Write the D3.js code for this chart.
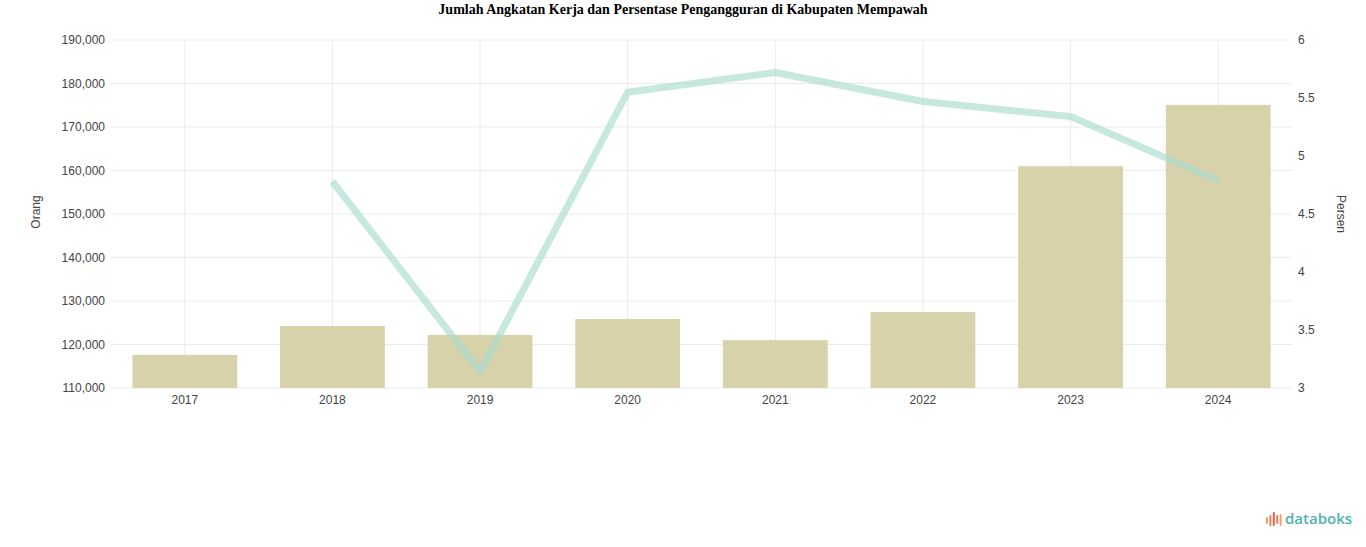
<!DOCTYPE html>
<html>
<head>
<meta charset="utf-8">
<script src="https://d3js.org/d3.v7.min.js"></script>
<style>
body {margin: 0; background: #fff;}
* {font-family: "Liberation Sans", Arial, sans-serif;}
</style>
</head>
<body>
<div id="chart"></div>
<script type="text/javascript">
// data
var years = ["2017", "2018", "2019", "2020", "2021", "2022", "2023", "2024"];
var angkatanKerja = [117600, 124250, 122200, 125850, 121000, 127450, 161000, 175100];
var pengangguran = [null, 4.78, 3.14, 5.55, 5.72, 5.47, 5.34, 4.79];
var leftTicks = [110000, 120000, 130000, 140000, 150000, 160000, 170000, 180000, 190000];
var rightTicks = [3, 3.5, 4, 4.5, 5, 5.5, 6];

var width = 1366;
var height = 547;
// plot area ("top" is taken by window.top, so use other names)
var plotLeft = 111, plotRight = 1292, plotTop = 40, plotBottom = 388;

var svg = d3.select("#chart").append("svg")
	.attr("width", width)
	.attr("height", height);

var x = d3.scaleBand().domain(years).range([plotLeft, plotRight]).paddingInner(0.29).paddingOuter(0.145);
var yL = d3.scaleLinear().domain([110000, 190000]).range([plotBottom, plotTop]);
var yR = d3.scaleLinear().domain([3, 6]).range([plotBottom, plotTop]);

// grid
svg.append("g").selectAll("line").data(leftTicks).enter().append("line")
	.attr("x1", plotLeft).attr("x2", plotRight)
	.attr("y1", function(d){ return yL(d); })
	.attr("y2", function(d){ return yL(d); })
	.attr("stroke", "#ebebeb").attr("stroke-width", 1);

svg.append("g").selectAll("line").data(years).enter().append("line")
	.attr("x1", function(d){ return x(d) + x.bandwidth()/2; })
	.attr("x2", function(d){ return x(d) + x.bandwidth()/2; })
	.attr("y1", plotTop).attr("y2", plotBottom)
	.attr("stroke", "#ebebeb").attr("stroke-width", 1);

// bars
svg.append("g").selectAll("rect").data(angkatanKerja).enter().append("rect")
	.attr("x", function(d, i){ return x(years[i]); })
	.attr("y", function(d){ return yL(d); })
	.attr("width", x.bandwidth())
	.attr("height", function(d){ return plotBottom - yL(d); })
	.attr("fill", "#d8d2ab");

// line
var line = d3.line()
	.defined(function(d){ return d != null; })
	.x(function(d, i){ return x(years[i]) + x.bandwidth()/2; })
	.y(function(d){ return yR(d); });

svg.append("path")
	.datum(pengangguran)
	.attr("d", line)
	.attr("fill", "none")
	.attr("stroke", "#a9dccd")
	.attr("stroke-opacity", 0.65)
	.attr("stroke-width", 7)
	.attr("stroke-linejoin", "round");

// axes
var axL = svg.append("g").attr("transform", "translate(" + (plotLeft - 3) + ",0)")
	.call(d3.axisLeft(yL).tickValues(leftTicks).tickSize(0).tickFormat(d3.format(",")));
var axR = svg.append("g").attr("transform", "translate(" + (plotRight + 3) + ",0)")
	.call(d3.axisRight(yR).tickValues(rightTicks).tickSize(0).tickFormat(function(d){ return String(d); }));
var axB = svg.append("g").attr("transform", "translate(0," + (plotBottom + 2) + ")")
	.call(d3.axisBottom(x).tickSize(0));

[axL, axR, axB].forEach(function(a){
	a.select(".domain").remove();
	a.selectAll("text").attr("fill", "#444").style("font-size", "12px");
});
axB.selectAll("text").attr("dy", "0.95em");

// axis titles
svg.append("text")
	.attr("transform", "translate(40,212) rotate(-90)")
	.attr("text-anchor", "middle")
	.attr("fill", "#444")
	.style("font-size", "12px")
	.text("Orang");

svg.append("text")
	.attr("transform", "translate(1337,214) rotate(90)")
	.attr("text-anchor", "middle")
	.attr("fill", "#444")
	.style("font-size", "12px")
	.text("Persen");

// title
svg.append("text")
	.attr("x", width/2).attr("y", 14)
	.attr("text-anchor", "middle")
	.style("font-family", "'Liberation Serif', 'Times New Roman', serif")
	.style("font-weight", "bold")
	.style("font-size", "14px")
	.text("Jumlah Angkatan Kerja dan Persentase Pengangguran di Kabupaten Mempawah");

// databoks logo
var logo = svg.append("g").attr("transform", "translate(1266,512)");
var logoBars = [7, 11, 14, 9, 12];
var logoCols = ["#f2a15c", "#ee7d55", "#e85b4f", "#ee7d55", "#f2a15c"];
logo.selectAll("rect").data(logoBars).enter().append("rect")
	.attr("x", function(d, i){ return i * 3.4; })
	.attr("y", function(d){ return 14 - d + (d > 10 ? 0 : -2); })
	.attr("width", 2)
	.attr("height", function(d){ return d; })
	.attr("rx", 1)
	.attr("fill", function(d, i){ return logoCols[i]; });
logo.append("text")
	.attr("x", 19).attr("y", 12)
	.attr("fill", "#4fb3aa")
	.style("font-family", "'Open Sans', 'DejaVu Sans', sans-serif")
	.style("font-size", "15px")
	.style("font-weight", "600")
	.text("databoks");
</script>
</body>
</html>
